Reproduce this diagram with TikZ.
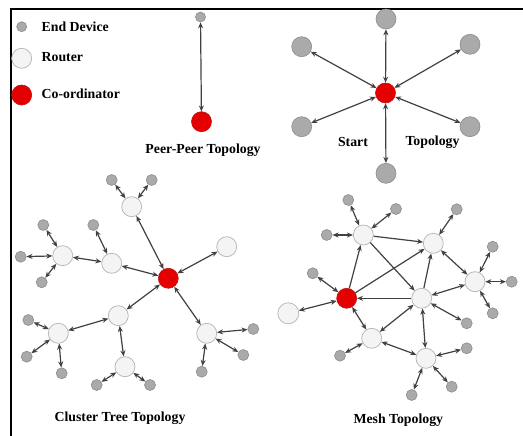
\documentclass[tikz,border=0pt]{standalone}
\usepackage{fontspec}
\setmainfont{Liberation Serif}
\usetikzlibrary{arrows.meta}
\definecolor{edfill}{RGB}{170,170,170}
\definecolor{eddraw}{RGB}{140,140,140}
\definecolor{rtfill}{RGB}{244,244,244}
\definecolor{rtdraw}{RGB}{180,180,180}
\definecolor{cofill}{RGB}{228,0,0}
\definecolor{codraw}{RGB}{190,20,20}
\definecolor{lnk}{RGB}{65,65,65}
\tikzset{
  enddev/.style={circle,fill=edfill,draw=eddraw,line width=0.6pt,inner sep=0pt,minimum size=11pt},
  bigdev/.style={enddev,minimum size=20pt},
  router/.style={circle,fill=rtfill,draw=rtdraw,line width=0.7pt,inner sep=0pt,minimum size=20pt},
  coord/.style={circle,fill=cofill,draw=codraw,line width=0.6pt,inner sep=0pt,minimum size=20pt},
  lbl/.style={font=\bfseries\fontsize{13.8}{15}\selectfont,inner sep=0pt},
  bi/.style={draw=lnk,line width=1.2pt,{Stealth[length=6pt,width=5pt]}-{Stealth[length=6pt,width=5pt]}},
  uni/.style={draw=lnk,line width=1.2pt,-{Stealth[length=6pt,width=5pt]}}
}
\begin{document}
\begin{tikzpicture}[x=1pt,y=-1pt]
\useasboundingbox (0,0) rectangle (523,436);
\fill[white] (0,0) rectangle (523,436);
\draw[line width=2pt] (10.5,436) -- (10.5,9) -- (523,9);

% legend
\node[enddev,minimum size=10pt] (lgE) at (21.7,26.7) {};
\node[router] (lgR) at (21.7,58.3) {};
\node[coord] (lgC) at (21.7,95) {};
\node[lbl,anchor=west] (tE) at (41.5,27) {End Device};
\node[lbl,anchor=west] (tR) at (41.5,57) {Router};
\node[lbl,anchor=west] (tC) at (41.5,94) {Co-ordinator};

% peer-peer
\node[enddev,minimum size=10pt] (pE) at (200.5,17) {};
\node[coord] (pC) at (201.5,121.7) {};
\draw[bi] (pE) -- (pC);
\node[lbl] (tP) at (203,150) {Peer-Peer Topology};

% star
\node[coord] (sC) at (385.5,93) {};
\node[bigdev] (s1) at (386,19) {};
\node[bigdev] (s2) at (301.7,46.7) {};
\node[bigdev] (s3) at (470,44.3) {};
\node[bigdev] (s4) at (301.7,126.7) {};
\node[bigdev] (s5) at (470,126.7) {};
\node[bigdev] (s6) at (386,173.3) {};
\foreach \n in {s1,s2,s3,s4,s5,s6} \draw[bi] (sC) -- (\n);
\node[lbl] (tS1) at (353,142) {Start};
\node[lbl] (tS2) at (432.5,142) {Topology};

% cluster tree
\node[coord] (cC) at (168.3,278.3) {};
\node[router] (cT) at (131.7,206.7) {};
\node[router] (cR) at (226.7,246.7) {};
\node[router] (cM) at (111.7,263.3) {};
\node[router] (cF) at (62.7,255.7) {};
\node[router] (cL) at (118.3,315.7) {};
\node[router] (cLL) at (58.3,333.3) {};
\node[router] (cB) at (125,366.7) {};
\node[router] (cRL) at (206.7,333.3) {};
\node[enddev] (ct1) at (111.7,180) {};
\node[enddev] (ct2) at (151.7,180) {};
\node[enddev] (cm1) at (93.3,225) {};
\node[enddev] (cf1) at (43.3,225) {};
\node[enddev] (cf2) at (20.7,256.7) {};
\node[enddev] (cf3) at (41.7,282.3) {};
\node[enddev] (cl1) at (28.3,320) {};
\node[enddev] (cl2) at (26.7,356.7) {};
\node[enddev] (cl3) at (61.7,373.3) {};
\node[enddev] (cb1) at (96.7,385) {};
\node[enddev] (cb2) at (150,385) {};
\node[enddev] (cr1) at (253.3,329) {};
\node[enddev] (cr2) at (243.3,355) {};
\node[enddev] (cr3) at (201.7,371.7) {};
\foreach \a/\b in {cC/cT,cC/cR,cC/cM,cC/cL,cC/cRL,cT/ct1,cT/ct2,cM/cm1,cM/cF,cF/cf1,cF/cf2,cF/cf3,cL/cLL,cL/cB,cLL/cl1,cLL/cl2,cLL/cl3,cB/cb1,cB/cb2,cRL/cr1,cRL/cr2,cRL/cr3}
  \draw[bi] (\a) -- (\b);
\node[lbl] (tCT) at (120,418.5) {Cluster Tree Topology};

% mesh
\node[coord] (mC) at (346.7,298.3) {};
\node[router] (mA) at (363.3,235) {};
\node[router] (mB) at (433.3,243.3) {};
\node[router] (mCr) at (475,281.7) {};
\node[router] (mD) at (421.7,298.3) {};
\node[router] (mE) at (371.7,338.3) {};
\node[router] (mF) at (426,358.3) {};
\node[router,minimum size=21pt] (mG) at (288.3,313.3) {};
\node[enddev] (ma1) at (348.3,200) {};
\node[enddev] (ma2) at (396,209) {};
\node[enddev] (ma3) at (326.7,235) {};
\node[enddev] (mc1) at (312.7,273.3) {};
\node[enddev] (mb1) at (456.7,209.3) {};
\node[enddev] (mr1) at (492.7,246.7) {};
\node[enddev] (mr2) at (511.7,281.7) {};
\node[enddev] (mr3) at (492.7,313.3) {};
\node[enddev] (md1) at (466.7,323.3) {};
\node[enddev] (me1) at (340,355.7) {};
\node[enddev] (mf1) at (466.7,348.3) {};
\node[enddev] (mf2) at (451.7,386.7) {};
\node[enddev] (mf3) at (411.7,395) {};
\foreach \a/\b in {mA/mB,mA/mD,mC/mA,mC/mB,mD/mC,mD/mB}
  \draw[uni] (\a) -- (\b);
\foreach \a/\b in {mA/ma1,mA/ma2,mA/ma3,mC/mc1,mC/mG,mC/mE,mB/mb1,mB/mCr,mCr/mD,mCr/mr1,mCr/mr2,mCr/mr3,mD/md1,mD/mE,mD/mF,mE/mF,mE/me1,mF/mf1,mF/mf2,mF/mf3}
  \draw[bi] (\a) -- (\b);
\node[lbl] (tM) at (398.3,420) {Mesh Topology};
\end{tikzpicture}
\end{document}
